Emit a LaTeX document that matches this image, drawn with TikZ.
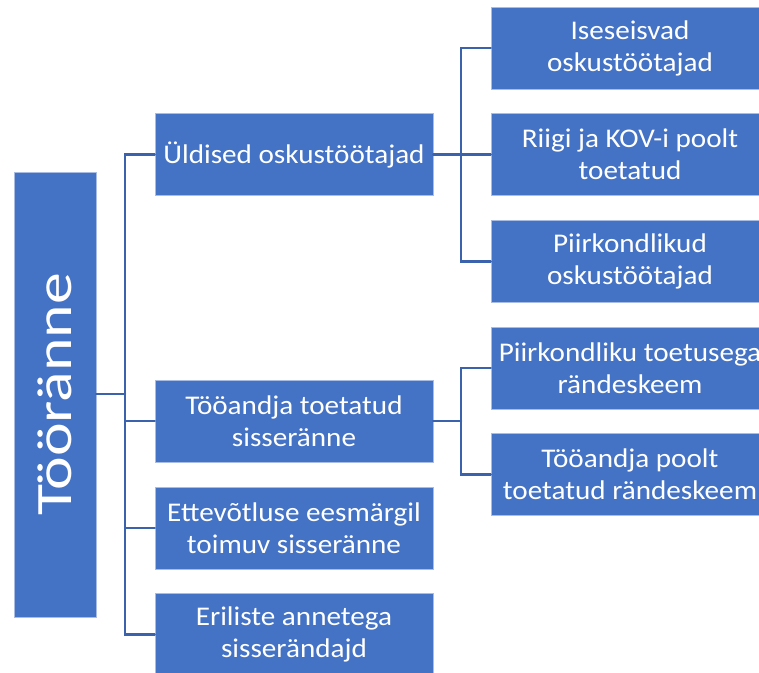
\documentclass[tikz,border=0pt]{standalone}
\usepackage{fontspec}
\newfontfamily\boxfont[FakeStretch=1.08]{Carlito}
\newfontfamily\rootfont[FakeStretch=1.25]{Carlito}
\usetikzlibrary{calc}
\begin{document}
\begin{tikzpicture}
    [x=1pt,y=-1pt,line cap=round,
    % Styles
    topic/.style={rectangle,fill=boxfill,draw=boxedge,line width=0.6pt,
      inner sep=0pt,text=white,align=center,
      minimum width=278pt,minimum height=82pt,
      font=\boxfont\fontsize{27}{32}\selectfont},
    link/.style={draw=linkcolor,line width=2.5pt,line join=miter}]
    % Colors
    \definecolor{boxfill}{HTML}{4472C4}
    \definecolor{boxedge}{HTML}{A9BCE3}
    \definecolor{linkcolor}{HTML}{3A62AD}
    \useasboundingbox (0,0) rectangle (759,672);
    % The graphic
    \node[topic,minimum width=82pt,minimum height=445pt] (root) at (55,394.5)
      {\rotatebox{90}{\rootfont\fontsize{51}{60}\selectfont Tööränne}};
    % first level
    \node[topic] (gen)  at (294,154.5) {Üldised oskustöötajad};
    \node[topic] (emp)  at (294,421)   {Tööandja toetatud\\sisseränne};
    \node[topic] (ent)  at (294,528)   {Ettevõtluse eesmärgil\\toimuv sisseränne};
    \node[topic] (spec) at (294,634.5) {Eriliste annetega\\sisserändajd};
    % second level
    \node[topic] (ind)    at (630,48)    {Iseseisvad\\oskustöötajad};
    \node[topic] (gov)    at (630,154.5) {Riigi ja KOV-i poolt\\toetatud};
    \node[topic] (reg)    at (630,261.5) {Piirkondlikud\\oskustöötajad};
    \node[topic] (regsch) at (630,368)   {Piirkondliku toetusega\\rändeskeem};
    \node[topic] (empsch) at (630,474.5) {Tööandja poolt\\toetatud rändeskeem};
    % connectors
    \coordinate (trunk) at (125,394);
    \coordinate (fork1) at (461,154.5);
    \coordinate (fork2) at (461,421);
    \draw[link] (root.east |- trunk) -- (trunk);
    \foreach \kid in {gen,emp,ent,spec}
      \draw[link] (\kid.west) -| (trunk);
    \draw[link] (gen.east) -- (fork1);
    \foreach \kid in {ind,gov,reg}
      \draw[link] (\kid.west) -| (fork1);
    \draw[link] (emp.east) -- (fork2);
    \foreach \kid in {regsch,empsch}
      \draw[link] (\kid.west) -| (fork2);
\end{tikzpicture}
\end{document}
